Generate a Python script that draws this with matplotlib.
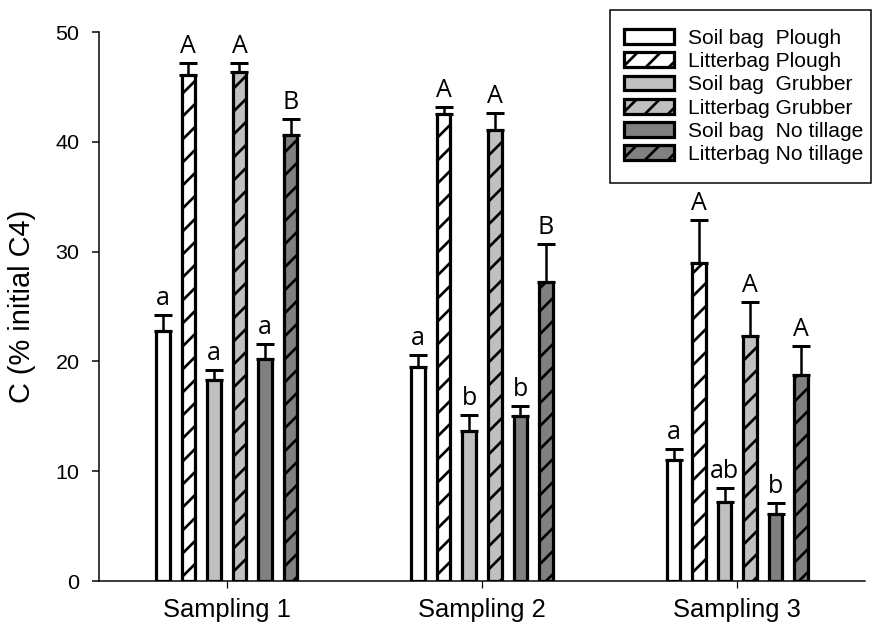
import matplotlib
matplotlib.use("Agg")
import matplotlib.pyplot as plt
import numpy as np
from matplotlib.patches import Patch, Rectangle

DPI = 138
def pt(px):
    """pixels -> points at the figure resolution"""
    return px * 72.0 / DPI

# ---- data -------------------------------------------------------------
samplings = ["Sampling 1", "Sampling 2", "Sampling 3"]
series_labels = ["Soil bag  Plough", "Litterbag Plough", "Soil bag  Grubber",
                 "Litterbag Grubber", "Soil bag  No tillage", "Litterbag No tillage"]

soil_plough = [22.8, 19.5, 11.0]
soil_plough_err = [1.4, 1.1, 1.0]
litter_plough = [46.1, 42.5, 29.0]
litter_plough_err = [1.1, 0.7, 3.9]
soil_grubber = [18.3, 13.7, 7.2]
soil_grubber_err = [0.9, 1.4, 1.3]
litter_grubber = [46.4, 41.1, 22.3]
litter_grubber_err = [0.8, 1.5, 3.1]
soil_notill = [20.2, 15.0, 6.1]
soil_notill_err = [1.4, 0.9, 1.0]
litter_notill = [40.6, 27.2, 18.8]
litter_notill_err = [1.5, 3.5, 2.6]

letters_plough_soil = ["a", "a", "a"]
letters_plough_litter = ["A", "A", "A"]
letters_grubber_soil = ["a", "b", "ab"]
letters_grubber_litter = ["A", "A", "A"]
letters_notill_soil = ["a", "b", "b"]
letters_notill_litter = ["B", "B", "A"]

yticks = [0, 10, 20, 30, 40, 50]

series = [
    (soil_plough, soil_plough_err, letters_plough_soil, "white", ""),
    (litter_plough, litter_plough_err, letters_plough_litter, "white", "//"),
    (soil_grubber, soil_grubber_err, letters_grubber_soil, "#c0c0c0", ""),
    (litter_grubber, litter_grubber_err, letters_grubber_litter, "#c0c0c0", "//"),
    (soil_notill, soil_notill_err, letters_notill_soil, "#808080", ""),
    (litter_notill, litter_notill_err, letters_notill_litter, "#808080", "//"),
]

# ---- figure -----------------------------------------------------------
plt.rcParams["font.family"] = ["Liberation Sans", "DejaVu Sans"]
plt.rcParams["hatch.linewidth"] = pt(2.7)

W, H = 872, 631
fig = plt.figure(figsize=((W + 0.01) / DPI, (H + 0.01) / DPI), dpi=DPI)
ax_l, ax_r, ax_t, ax_b = 99, 865, 32, 581
ax = fig.add_axes([ax_l / W, 1 - ax_b / H, (ax_r - ax_l) / W, (ax_b - ax_t) / H])

centers = np.arange(len(samplings)) + 0.5
step = 0.1
width = 0.053
edge_lw = pt(3.2)

for i, (vals, errs, letters, color, hatch) in enumerate(series):
    x = centers + (i - 2.5) * step
    ax.bar(x, vals, width=width, color=color, edgecolor="black",
           linewidth=edge_lw, hatch=hatch, zorder=2)
    ax.errorbar(x, vals, yerr=[np.zeros(len(vals)), errs], fmt="none",
                ecolor="black", elinewidth=pt(2.5), capsize=pt(9),
                capthick=pt(3.0), zorder=3)
    for xi, v, e, lab in zip(x, vals, errs, letters):
        ax.annotate(lab, (xi, v + e), xytext=(0, pt(10)),
                    textcoords="offset points", ha="center", va="baseline",
                    fontsize=pt(25), family=["Open Sans", "DejaVu Sans"],
                    color="black")

ax.set_xlim(0, 3)
ax.set_ylim(0, 50)
ax.set_yticks(yticks)
ax.set_xticks(centers)
ax.set_xticklabels(samplings, fontsize=pt(25.5))
ax.tick_params(axis="y", labelsize=pt(21.5), length=pt(7.5), width=pt(1.5),
               pad=pt(12))
ax.tick_params(axis="x", length=pt(7), width=pt(1.2), pad=pt(10))

for s in ("top", "right"):
    ax.spines[s].set_visible(False)
for s in ("left", "bottom"):
    ax.spines[s].set_linewidth(pt(1.5))

ax.set_ylabel("C (% initial C4)", fontsize=pt(29))
ax.yaxis.set_label_coords((36 - ax_l) / (ax_r - ax_l), 0.5)

# legend entries without their own frame; the box is drawn separately
handles = [Patch(facecolor=c, edgecolor="black", linewidth=edge_lw, hatch=h)
           for (_, _, _, c, h) in series]
leg = fig.legend(handles, series_labels, loc="upper right",
                 bbox_to_anchor=(876.7 / W, 1 - 15.3 / H),
                 fontsize=pt(21), frameon=False, handlelength=2.4,
                 handleheight=0.7, handletextpad=0.65, labelspacing=0.2,
                 borderpad=0.65, borderaxespad=0)
leg.set_zorder(6)

box_l, box_r, box_t, box_b = 610, 871, 10, 183
legend_box = Rectangle((box_l / W, 1 - box_b / H),
                       (box_r - box_l) / W, (box_b - box_t) / H,
                       transform=fig.transFigure, facecolor="white",
                       edgecolor="black", linewidth=pt(1.5), zorder=5)
fig.add_artist(legend_box)

fig.savefig("out.png", dpi=DPI)
